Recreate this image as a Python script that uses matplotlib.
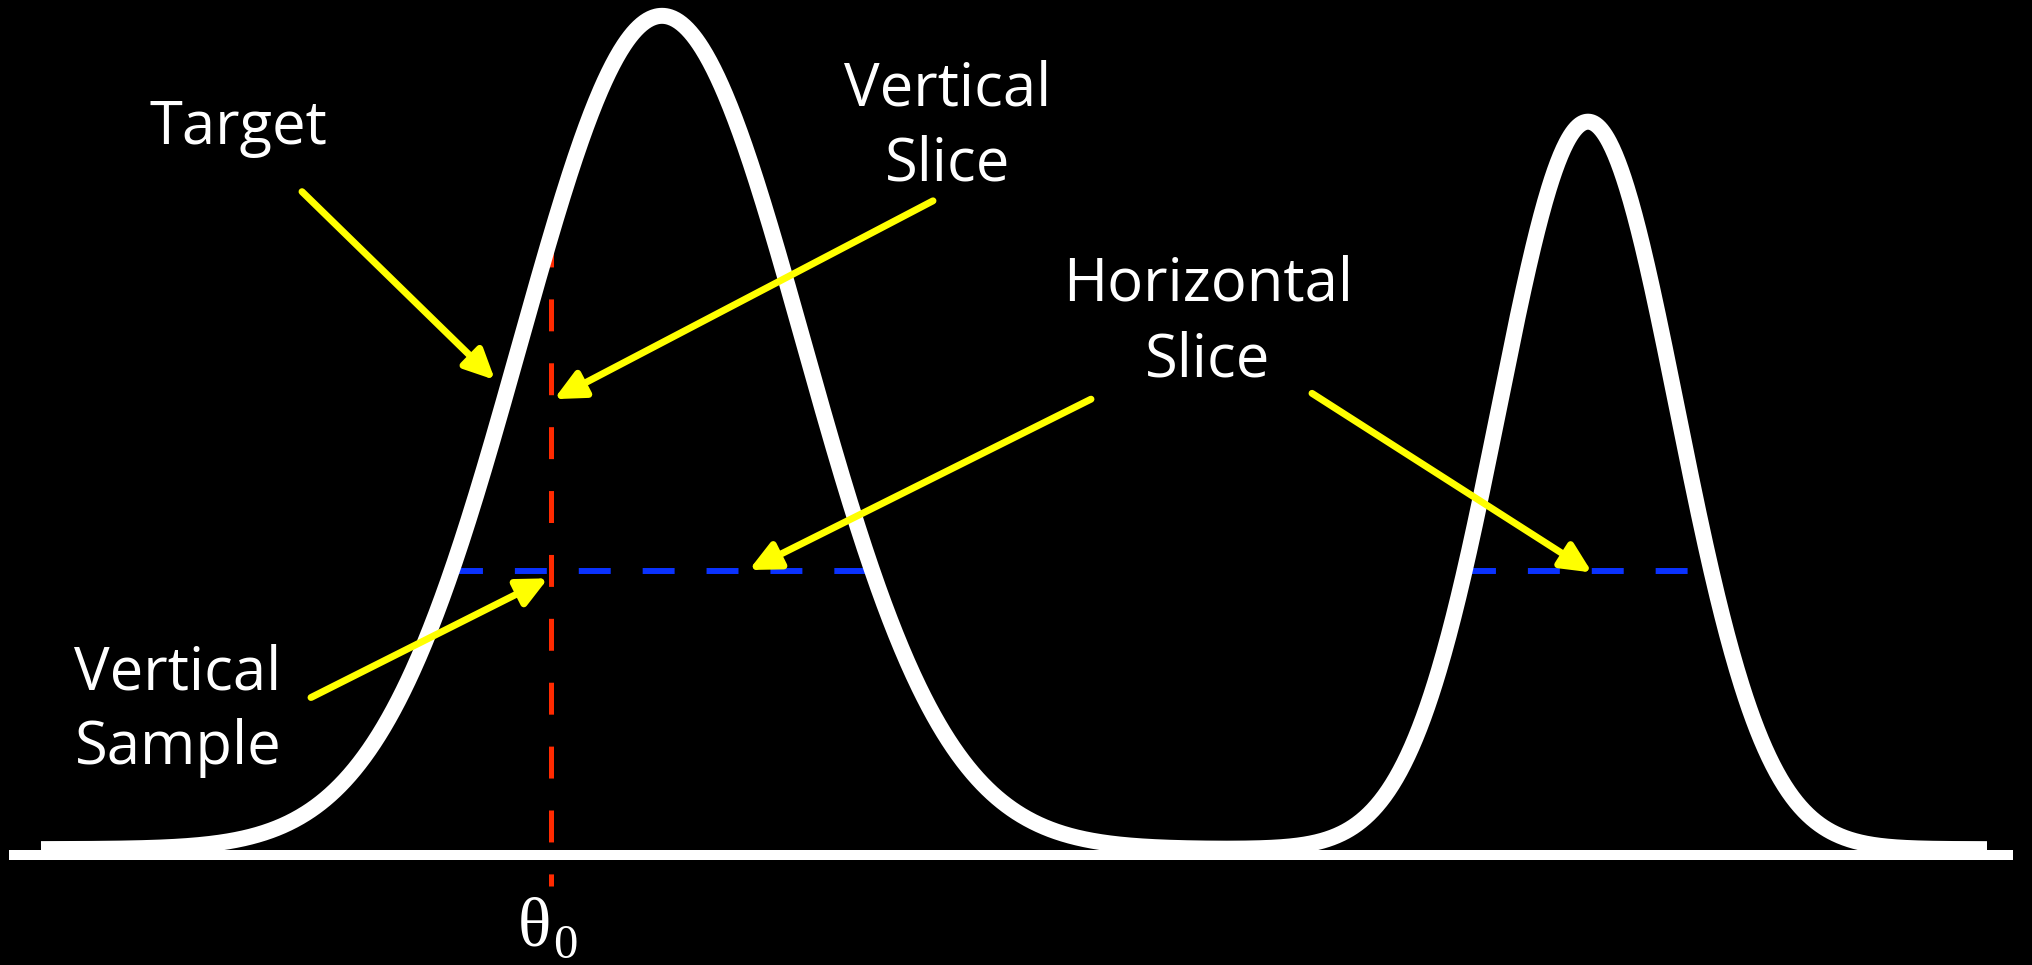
import matplotlib
matplotlib.use("Agg")
import matplotlib.pyplot as plt
import numpy as np
from matplotlib.patches import FancyArrowPatch

# two-bump target density (peak positions, widths, heights)
means = [6.62, 15.88]
sigmas = [1.42, 0.89]
heights = [1.0, 0.873]
x_range = [0.41, 19.87]

theta0 = 5.51          # vertical slice position
slice_level = 0.334    # horizontal slice level

labels = ["Target", "Vertical\nSlice", "Horizontal\nSlice", "Vertical\nSample"]


def target(x):
    x = np.asarray(x, dtype=float)
    y = np.zeros_like(x)
    for m, s, h in zip(means, sigmas, heights):
        y += h * np.exp(-(x - m) ** 2 / (2 * s ** 2))
    return y


plt.rcParams['lines.scale_dashes'] = False

fig = plt.figure(figsize=(20.32, 9.65), dpi=100)
fig.patch.set_facecolor('black')
ax = fig.add_axes([0, 0, 1, 1])
ax.set_facecolor('black')
ax.set_xlim(0, 20.32)
ax.set_ylim(-0.139, 1.019)
ax.axis('off')

xs = np.linspace(x_range[0], x_range[1], 2000)
ys = target(xs)

# baseline
ax.plot([0.09, 20.13], [-0.0072, -0.0072], color='white', lw=7.2,
        solid_capstyle='butt', zorder=4)
# curve
ax.plot(xs, ys, color='white', lw=11.5, solid_capstyle='butt', zorder=5)

# vertical slice (red)
ax.plot([theta0, theta0], [target(theta0), -0.0444], color='#ff2a00', lw=3.6,
        dashes=(23, 23), dash_capstyle='butt', zorder=2)

# horizontal slices (blue), between the crossings of the level with the curve
above = ys > slice_level
edges = np.flatnonzero(np.diff(above.astype(int)))
for i in range(0, len(edges) - 1, 2):
    xa = xs[edges[i]]
    xb = xs[edges[i + 1] + 1]
    ax.plot([xa, xb], [slice_level, slice_level], color='#0a32ff', lw=4.3,
            dashes=(23, 23), dash_capstyle='butt', zorder=2)

font = 'Open Sans'
tkw = dict(color='white', fontsize=43, family=font, ha='center', va='center',
           linespacing=1.33, zorder=6)
ax.text(2.38, 0.865, labels[0], **tkw)
ax.text(9.48, 0.867, labels[1], **tkw)
ax.text(12.08, 0.632, labels[2], **tkw)
ax.text(1.78, 0.166, labels[3], **tkw)

ax.text(5.34, -0.095, 'θ', color='white', fontsize=50,
        family='Liberation Serif', ha='center', va='center')
ax.text(5.65, -0.116, '0', color='white', fontsize=35,
        family='Liberation Serif', ha='center', va='center')

arrows = [
    ((3.02, 0.789), (4.95, 0.563)),
    ((9.33, 0.778), (5.54, 0.540)),
    ((10.91, 0.540), (7.49, 0.335)),
    ((13.12, 0.547), (15.92, 0.332)),
    ((3.11, 0.182), (5.48, 0.325)),
]
for start, tip in arrows:
    ar = FancyArrowPatch(start, tip, arrowstyle='-|>,head_length=18,head_width=8.6',
                         mutation_scale=1, color='#ffff00', lw=5,
                         shrinkA=0, shrinkB=0, zorder=7)
    ax.add_patch(ar)

fig.savefig('out.png', dpi=100, facecolor='black')
